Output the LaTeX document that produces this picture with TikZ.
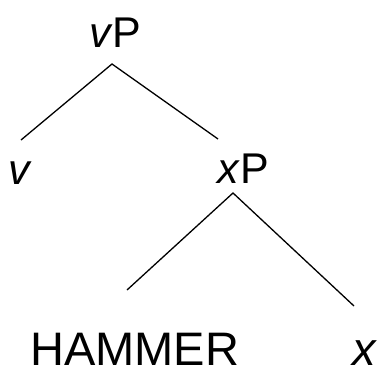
\documentclass[tikz,border=0pt]{standalone}
\usepackage{fontspec}
\setmainfont{Liberation Sans}
\usetikzlibrary{positioning}

\begin{document}
\begin{tikzpicture}[x=1pt, y=-1pt, semithick,
    label/.style={inner sep=0pt, anchor=base west, font=\fontsize{43}{43}\selectfont},
    leaf/.style={inner sep=0pt, anchor=base west, font=\fontsize{47}{47}\selectfont},
    branch/.style={line width=1.3pt}]
    \useasboundingbox (0,0) rectangle (381,367);

    % Upper level: vP -> v, xP
    \node[label] (vP) at (89,47) {\textit{v}P};
    \node[label] (v) at (8,184) {\textit{v}};
    \node[label] (xP) at (217,183) {\textit{x}P};

    % Lower level: xP -> HAMMER, x
    \node[leaf] (hammer) at (30,365) {HAMMER};
    \node[leaf] (x) at (352,365) {\textit{x}};

    % Branch ends
    \coordinate (vP-foot) at (112,64);
    \coordinate (v-head) at (21,140);
    \coordinate (xP-head) at (218,139);
    \coordinate (xP-foot) at (233,193);
    \coordinate (hammer-head) at (127,290);
    \coordinate (x-head) at (354,306);

    \draw[branch] (v-head) -- (vP-foot) -- (xP-head);
    \draw[branch] (hammer-head) -- (xP-foot) -- (x-head);
\end{tikzpicture}
\end{document}
